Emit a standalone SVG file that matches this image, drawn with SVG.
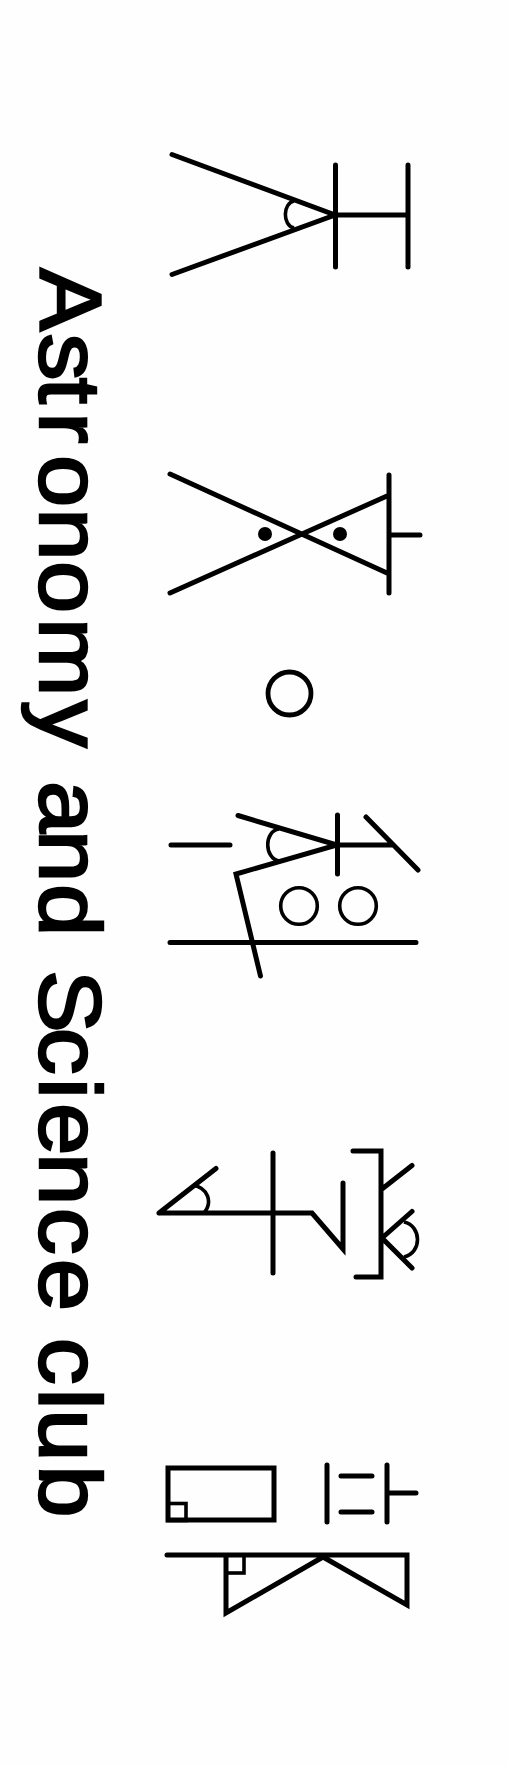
<svg xmlns="http://www.w3.org/2000/svg" width="508" height="1766" viewBox="0 0 508 1766">
<style>
.s{fill:none;stroke:#000;stroke-width:5;stroke-linecap:round;stroke-linejoin:miter}
.m{fill:none;stroke:#000;stroke-width:3.6;stroke-linecap:butt}
.d{fill:#000}
.t{font-family:"Liberation Sans",Arial,sans-serif;font-size:87px;fill:#000;stroke:#000;stroke-width:2.4}
</style>
<rect width="508" height="1766" fill="#fefefe"/>
<g id="title"><text class="t" transform="translate(39.500,0) rotate(90) scale(1.08,1)" x="248.5 308.8 349.7 381.6 421.3 470.5 519.4 572.3 648.5 685.2 723.1 768.6 818.6 851.9 898.1 951.6 998.2 1021.2 1067.7 1118.2 1165.6 1203.7 1238.6 1285.6 1304.8 1356.7">Astronomy and Science club</text></g>
<g id="glyph1">
<path class="s" d="M172 154.500L335 215L172 274.500M335.500 165V267M408 165V267M335 215H408"/>
<path class="m" d="M294 201C283 203 282 225 294 228"/>
</g>
<g id="glyph2">
<path class="s" d="M170 474L387 573M170 593L387 496M389 475V593M389 535H420"/>
<circle class="d" cx="265" cy="534" r="7"/><circle class="d" cx="340" cy="534" r="7"/>
</g>
<g id="glyph3"><circle cx="289.500" cy="693.500" r="21.500" fill="none" stroke="#000" stroke-width="4.800"/></g>
<g id="glyph4">
<path class="s" d="M171 845H230M238 815.500L337 845L236 874L260.500 976M337.500 815V874M337 845H393M366 817L418 870M170 942.500H416"/>
<path class="m" d="M279 829C264 831 264 858 279 861"/>
<circle class="m" cx="299" cy="906" r="18.300"/><circle class="m" cx="358" cy="906" r="18.300"/>
</g>
<g id="glyph5">
<path class="s" d="M159 1213H312L343 1249V1183M159 1213L216 1168.500M273 1153V1273M353 1151H381V1277H356M382 1189L412 1165.500M412 1211.500L382 1238L412 1268"/>
<path class="m" d="M193 1185C208 1188 213 1202 204 1213M404 1222C422 1226 422 1253 404 1257"/>
</g>
<g id="glyph6">
<rect class="s" x="168" y="1468" width="106" height="52"/>
<rect class="m" x="168" y="1503.500" width="18" height="17"/>
<path class="s" d="M327 1465V1522M341 1476H372M341 1512H372M387 1465V1522M387 1493H416"/>
</g>
<g id="glyph7">
<path class="s" d="M167 1555H407V1605L323 1557L226 1613V1555"/>
<rect class="m" x="226" y="1555" width="18" height="18"/>
</g>
<g id="connectors"></g>
</svg>
